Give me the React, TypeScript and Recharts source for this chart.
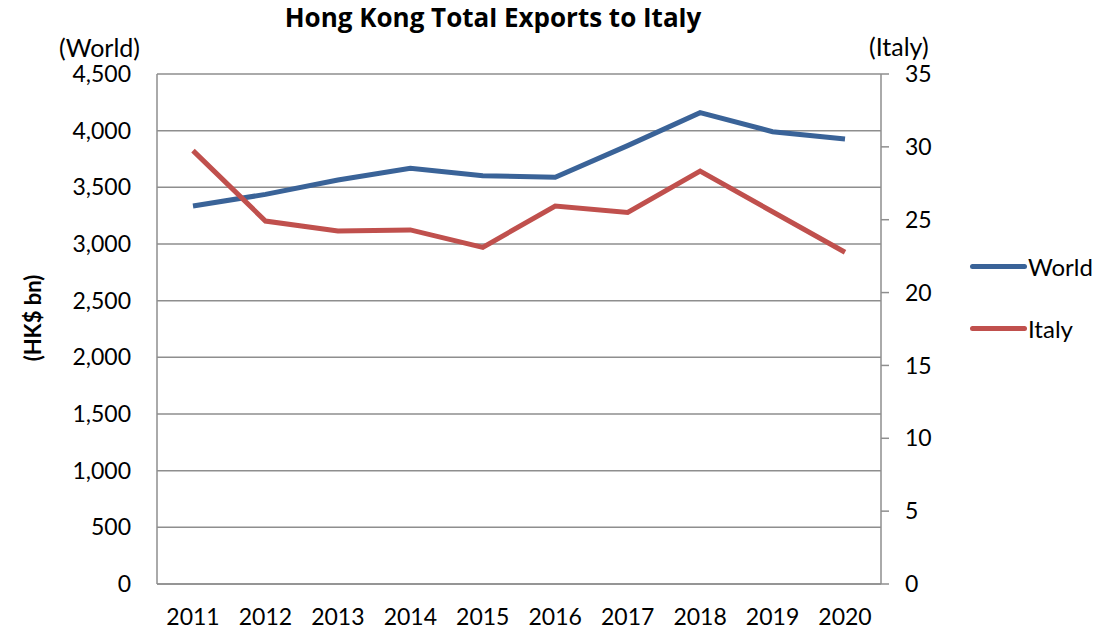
import { LineChart, Line, XAxis, YAxis, CartesianGrid } from 'recharts'

const YEARS = ['2011', '2012', '2013', '2014', '2015', '2016', '2017', '2018', '2019', '2020']
const WORLD = [3335, 3438, 3565, 3668, 3603, 3588, 3868, 4159, 3991, 3927]
const ITALY = [29.74, 24.91, 24.23, 24.3, 23.1, 25.94, 25.5, 28.34, 25.55, 22.77]
const LEFT_TICKS = [0, 500, 1000, 1500, 2000, 2500, 3000, 3500, 4000, 4500]
const RIGHT_TICKS = [0, 5, 10, 15, 20, 25, 30, 35]
const SERIES = [
  { key: 'world', name: 'World', color: '#3A6398' },
  { key: 'italy', name: 'Italy', color: '#C0504D' },
]

const FONT = 'Lato, "Open Sans", sans-serif'
const GRID = '#8E8E8E'
const TICK = { fill: '#000', fontSize: 23, fontFamily: FONT }

const chartData = YEARS.map((year, i) => ({ year, world: WORLD[i], italy: ITALY[i] }))

export default function App() {
  return (
    <div style={{ position: 'relative', width: 1100, height: 627, fontFamily: FONT }}>
      <div
        style={{
          position: 'absolute',
          left: 0,
          width: 970,
          top: -9,
          textAlign: 'center',
          fontWeight: 'bold',
          fontSize: 26,
          fontFamily: '"Open Sans", sans-serif',
        }}
      >
        Hong Kong Total Exports to Italy
      </div>
      <div style={{ position: 'absolute', left: 51, top: 27, fontSize: 25, lineHeight: '25px' }}>
        (World)
      </div>
      <div style={{ position: 'absolute', left: 861, top: 25, fontSize: 25, lineHeight: '26px' }}>
        (Italy)
      </div>
      <div
        style={{
          position: 'absolute',
          left: 24,
          top: 310,
          fontSize: 22,
          fontWeight: 'bold',
          transform: 'translate(-50%, -50%) rotate(-90deg)',
          whiteSpace: 'nowrap',
        }}
      >
        (HK$ bn)
      </div>
      {/* legend */}
      <div style={{ position: 'absolute', left: 962, top: 244, fontSize: 24 }}>
        {SERIES.map((s, i) => (
          <div key={s.name} style={{ display: 'flex', alignItems: 'center', marginTop: i ? 33 : 0 }}>
            <div style={{ width: 57, height: 5, borderRadius: 3, background: s.color }} />
            <span style={{ marginLeft: 1 }}>{s.name}</span>
          </div>
        ))}
      </div>
      <LineChart
        width={1100}
        height={627}
        data={chartData}
        margin={{ top: 66, right: 167, bottom: 0, left: 0 }}
      >
        <CartesianGrid vertical={false} stroke={GRID} strokeWidth={1.5} yAxisId="left" />
        <XAxis
          dataKey="year"
          height={51}
          padding={{ left: 36, right: 36 }}
          axisLine={{ stroke: GRID, strokeWidth: 1.5 }}
          tickLine={false}
          tickSize={0}
          tickMargin={25}
          tick={TICK}
          interval={0}
        />
        <YAxis
          yAxisId="left"
          orientation="left"
          width={149}
          domain={[0, 4500]}
          ticks={LEFT_TICKS}
          tickFormatter={v => Number(v).toLocaleString('en-US')}
          axisLine={{ stroke: GRID, strokeWidth: 1.5 }}
          tickLine={false}
          tickSize={0}
          tickMargin={26}
          tick={TICK}
        />
        <YAxis
          yAxisId="right"
          orientation="right"
          width={60}
          domain={[0, 35]}
          ticks={RIGHT_TICKS}
          axisLine={{ stroke: GRID, strokeWidth: 1.5 }}
          tickLine={{ stroke: GRID, strokeWidth: 1.5 }}
          tickSize={8}
          tickMargin={16}
          tick={{ ...TICK, textAnchor: 'start' }}
        />
        {SERIES.map(s => (
          <Line
            key={s.key}
            yAxisId={s.key === 'world' ? 'left' : 'right'}
            dataKey={s.key}
            name={s.name}
            stroke={s.color}
            strokeWidth={5}
            dot={false}
            isAnimationActive={false}
          />
        ))}
      </LineChart>
    </div>
  )
}
